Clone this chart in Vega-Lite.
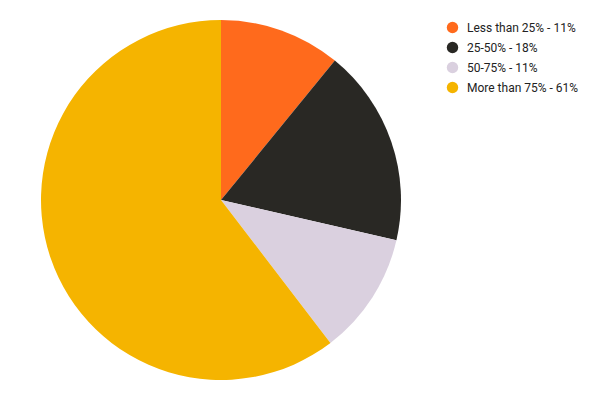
{
  "$schema": "https://vega.github.io/schema/vega-lite/v6.json",
  "width": 442,
  "height": 400,
  "padding": 0,
  "autosize": {"type": "pad"},
  "background": "white",
  "config": {"view": {"stroke": null}},
  "data": {
    "values": [
      {"label": "Less than 25% - 11%", "value": 10.9, "ord": 1},
      {"label": "25-50% - 18%", "value": 17.7, "ord": 2},
      {"label": "50-75% - 11%", "value": 11.0, "ord": 3},
      {"label": "More than 75% - 61%", "value": 60.4, "ord": 4}
    ]
  },
  "mark": {"type": "arc", "outerRadius": 180, "stroke": null},
  "encoding": {
    "theta": {"field": "value", "type": "quantitative", "stack": true},
    "order": {"field": "ord", "type": "quantitative"},
    "color": {
      "field": "label",
      "type": "nominal",
      "scale": {
        "domain": ["Less than 25% - 11%", "25-50% - 18%", "50-75% - 11%", "More than 75% - 61%"],
        "range": ["#ff6a1c", "#292824", "#dad0df", "#f5b400"]
      },
      "legend": {
        "title": null,
        "orient": "none",
        "legendX": 446,
        "legendY": 21,
        "symbolType": "circle",
        "symbolSize": 130,
        "labelFont": "Roboto",
        "labelFontSize": 12,
        "labelColor": "#222222",
        "rowPadding": 7,
        "labelOffset": 8
      }
    }
  }
}
